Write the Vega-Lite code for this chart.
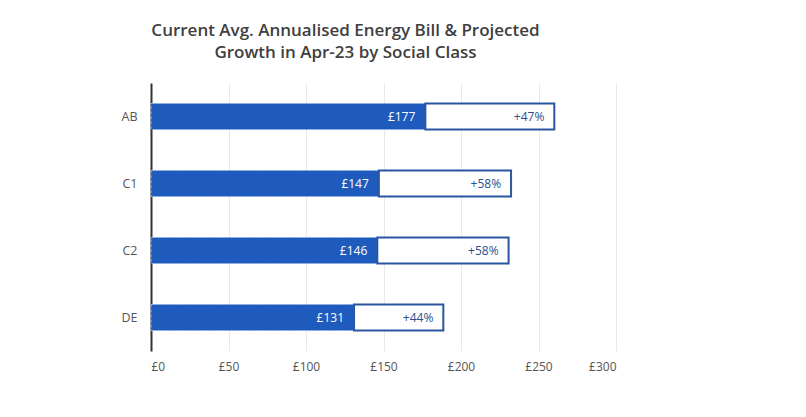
{
  "$schema": "https://vega.github.io/schema/vega-lite/v6.json",
  "width": 465,
  "height": 268,
  "autosize": {"type": "none"},
  "padding": {"left": 151, "top": 83, "right": 190, "bottom": 66},
  "background": "white",
  "title": {
    "text": ["Current Avg. Annualised Energy Bill & Projected", "Growth in Apr-23 by Social Class"],
    "anchor": "middle",
    "frame": "group",
    "dx": -38,
    "offset": 21,
    "font": "Open Sans",
    "fontSize": 17,
    "fontWeight": 600,
    "color": "#404040",
    "lineHeight": 22
  },
  "data": {
    "values": [
      {"cls": "AB", "current": 177, "projected": 260.2, "cur_label": "£177", "growth": "+47%"},
      {"cls": "C1", "current": 147, "projected": 232.3, "cur_label": "£147", "growth": "+58%"},
      {"cls": "C2", "current": 146, "projected": 230.7, "cur_label": "£146", "growth": "+58%"},
      {"cls": "DE", "current": 131, "projected": 188.6, "cur_label": "£131", "growth": "+44%"}
    ]
  },
  "encoding": {
    "y": {
      "field": "cls",
      "type": "nominal",
      "sort": ["AB", "C1", "C2", "DE"],
      "scale": {"paddingInner": 0, "paddingOuter": 0},
      "axis": {
        "title": null,
        "ticks": false,
        "labelPadding": 14,
        "labelFont": "Open Sans",
        "labelFontSize": 12.5,
        "labelColor": "#555555",
        "domainColor": "#333333",
        "domainWidth": 2,
        "grid": false
      }
    }
  },
  "layer": [
    {
      "mark": {"type": "bar", "size": 26, "fill": "#1f5bbd", "stroke": "#8fb0e4", "strokeWidth": 1, "strokeDash": [3, 2]},
      "encoding": {
        "x": {
          "field": "current",
          "type": "quantitative",
          "scale": {"domain": [0, 300], "nice": false},
          "axis": {
            "title": null,
            "values": [0, 50, 100, 150, 200, 250, 300],
            "labelExpr": "'£' + datum.value",
            "domain": false,
            "ticks": false,
            "labelPadding": 10,
            "labelFont": "Open Sans",
            "labelFontSize": 12,
            "labelColor": "#555555",
            "gridColor": "#e8e8e8",
            "gridWidth": 1
          }
        }
      }
    },
    {
      "mark": {"type": "bar", "size": 26, "fill": "white", "stroke": "#2a55a0", "strokeWidth": 2},
      "encoding": {
        "x": {"field": "current", "type": "quantitative"},
        "x2": {"field": "projected"}
      }
    },
    {
      "mark": {"type": "text", "align": "right", "dx": -10, "font": "Open Sans", "fontSize": 12, "color": "white"},
      "encoding": {
        "x": {"field": "current", "type": "quantitative"},
        "text": {"field": "cur_label"}
      }
    },
    {
      "mark": {"type": "text", "align": "right", "dx": -10, "font": "Open Sans", "fontSize": 12, "color": "#2a4f8f"},
      "encoding": {
        "x": {"field": "projected", "type": "quantitative"},
        "text": {"field": "growth"}
      }
    }
  ],
  "config": {"view": {"stroke": null}}
}
